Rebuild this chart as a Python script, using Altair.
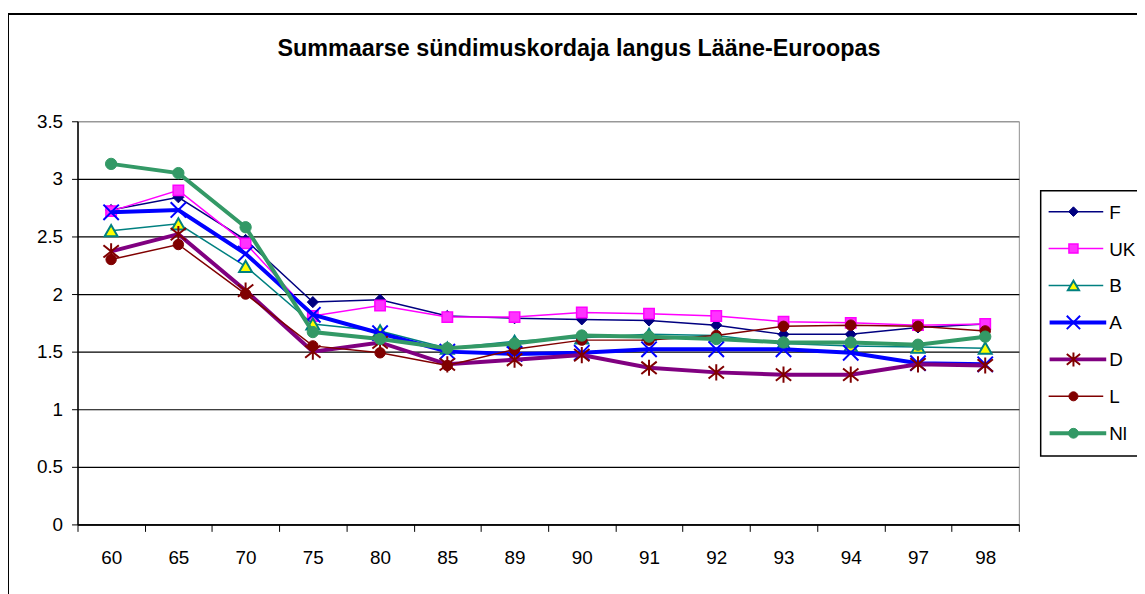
import altair as alt
import pandas as pd

# ---- data ----
years = ["60", "65", "70", "75", "80", "85", "89", "90", "91", "92", "93", "94", "97", "98"]
series_names = ["F", "UK", "B", "A", "D", "L", "Nl"]

F = [2.73, 2.84, 2.47, 1.93, 1.95, 1.81, 1.79, 1.78, 1.77, 1.73, 1.65, 1.65, 1.71, 1.74]
UK = [2.72, 2.90, 2.44, 1.81, 1.90, 1.80, 1.80, 1.84, 1.83, 1.81, 1.76, 1.75, 1.73, 1.74]
B = [2.55, 2.61, 2.24, 1.74, 1.68, 1.53, 1.59, 1.62, 1.65, 1.64, 1.57, 1.55, 1.54, 1.53]
A = [2.71, 2.73, 2.35, 1.82, 1.66, 1.50, 1.48, 1.49, 1.52, 1.52, 1.52, 1.49, 1.40, 1.39]
D = [2.37, 2.52, 2.03, 1.50, 1.58, 1.39, 1.43, 1.47, 1.36, 1.32, 1.30, 1.30, 1.39, 1.38]
L = [2.30, 2.43, 2.00, 1.55, 1.49, 1.38, 1.52, 1.60, 1.60, 1.64, 1.72, 1.73, 1.72, 1.68]
Nl = [3.13, 3.05, 2.58, 1.67, 1.61, 1.53, 1.57, 1.64, 1.63, 1.61, 1.58, 1.58, 1.56, 1.63]

y_ticks = [0, 0.5, 1, 1.5, 2, 2.5, 3, 3.5]
title_text = "Summaarse sündimuskordaja langus Lääne-Euroopas"

values = {"F": F, "UK": UK, "B": B, "A": A, "D": D, "L": L, "Nl": Nl}

X_PATH = "M-1,-1L1,1M-1,1L1,-1"
STAR_PATH = "M-1,-0.8L1,0.8M-1,0.8L1,-0.8M0,-1.05L0,1.05"

styles = {
    "F": dict(line="#000080", lw=1.5, shape="diamond", fill="#000080", stroke="#000080", sw=1, size=125),
    "UK": dict(line="#FF00FF", lw=1.5, shape="square", fill="#FF33FF", stroke="#FF00FF", sw=1.5, size=110),
    "B": dict(line="#008080", lw=1.5, shape="triangle-up", fill="#FFFF00", stroke="#008080", sw=2, size=170),
    "A": dict(line="#0000FF", lw=4, shape=X_PATH, fill=None, stroke="#0000FF", sw=2, size=240),
    "D": dict(line="#800080", lw=4, shape=STAR_PATH, fill=None, stroke="#800000", sw=2, size=240),
    "L": dict(line="#800000", lw=1.5, shape="circle", fill="#800000", stroke="#800000", sw=1, size=110),
    "Nl": dict(line="#339966", lw=4, shape="circle", fill="#339966", stroke="#339966", sw=1, size=130),
}

FONT = "Liberation Sans"
W, H = 948, 406

x_enc = alt.X(
    "year:N",
    scale=alt.Scale(type="band", domain=years, paddingInner=0, paddingOuter=0),
    bandPosition=0.5,
    axis=alt.Axis(
        title=None, labelAngle=0, tickBand="extent", grid=False,
        tickSize=7, tickColor="black", domainColor="black", domainWidth=1.5,
        labelFont=FONT, labelFontSize=19, labelColor="black", labelPadding=17,
    ),
)
y_enc = alt.Y(
    "value:Q",
    scale=alt.Scale(domain=[0, 3.5], nice=False, zero=True),
    axis=alt.Axis(
        title=None, values=y_ticks, labelExpr="datum.value + ''",
        grid=True, gridColor={"condition": {"test": "datum.value >= 3.5", "value": "#909090"}, "value": "black"},
        gridWidth=1.2, tickSize=6, tickColor="black", domainColor="black", domainWidth=1.5,
        labelFont=FONT, labelFontSize=19, labelColor="black", labelPadding=9,
    ),
)

one = pd.DataFrame({"k": [0]})

layers = []

# outer frame (no fill, so the axes stay visible)
layers.append(
    alt.Chart(one).mark_rect(filled=False, stroke="black", strokeWidth=2).encode(
        x=alt.value(-70), x2=alt.value(1100), y=alt.value(-108), y2=alt.value(520)
    )
)

# title
layers.append(
    alt.Chart(one).mark_text(
        text=title_text, font=FONT, fontSize=23.5, fontWeight="bold", align="center",
        baseline="alphabetic", color="black",
    ).encode(x=alt.value(505), y=alt.value(-66))
)

# data series
for s in series_names:
    st = styles[s]
    df = pd.DataFrame({"year": years, "value": values[s], "series": s})
    base = alt.Chart(df)
    layers.append(base.mark_line(color=st["line"], strokeWidth=st["lw"]).encode(x=x_enc, y=y_enc))
    pkw = dict(shape=st["shape"], size=st["size"], stroke=st["stroke"], strokeWidth=st["sw"], opacity=1)
    if st["fill"] is None:
        pkw["filled"] = False
    else:
        pkw["filled"] = True
        pkw["fill"] = st["fill"]
    layers.append(base.mark_point(**pkw).encode(x=x_enc, y=y_enc))

# legend box
layers.append(
    alt.Chart(one).mark_rect(fill="white", stroke="black", strokeWidth=1.5).encode(
        x=alt.value(970), x2=alt.value(1100), y=alt.value(70), y2=alt.value(337)
    )
)

for i, s in enumerate(series_names):
    st = styles[s]
    ly = 91 + 37.2 * i
    ldf = pd.DataFrame({"series": [s]})
    lb = alt.Chart(ldf)
    x1, x2 = (978, 1033) if st["lw"] < 3 else (979, 1036)
    layers.append(
        lb.mark_rule(color=st["line"], strokeWidth=st["lw"]).encode(
            x=alt.value(x1), x2=alt.value(x2), y=alt.value(ly)
        )
    )
    pkw = dict(shape=st["shape"], size=st["size"] * 0.75, stroke=st["stroke"], strokeWidth=st["sw"], opacity=1)
    if st["fill"] is None:
        pkw["filled"] = False
    else:
        pkw["filled"] = True
        pkw["fill"] = st["fill"]
    layers.append(lb.mark_point(**pkw).encode(x=alt.value(1003), y=alt.value(ly)))
    layers.append(
        lb.mark_text(align="left", baseline="middle", font=FONT, fontSize=19, color="black").encode(
            x=alt.value(1039), y=alt.value(ly + 1), text="series:N"
        )
    )

chart = (
    alt.layer(*layers)
    .properties(
        width=W, height=H,
        autosize=alt.AutoSizeParams(type="none"),
        padding={"left": 70, "top": 112, "right": 119, "bottom": 68},
        background="white",
    )
    .configure_view(stroke="#909090", strokeWidth=1)
)

chart.save("out.html", embed_options={"renderer": "svg", "actions": False})
